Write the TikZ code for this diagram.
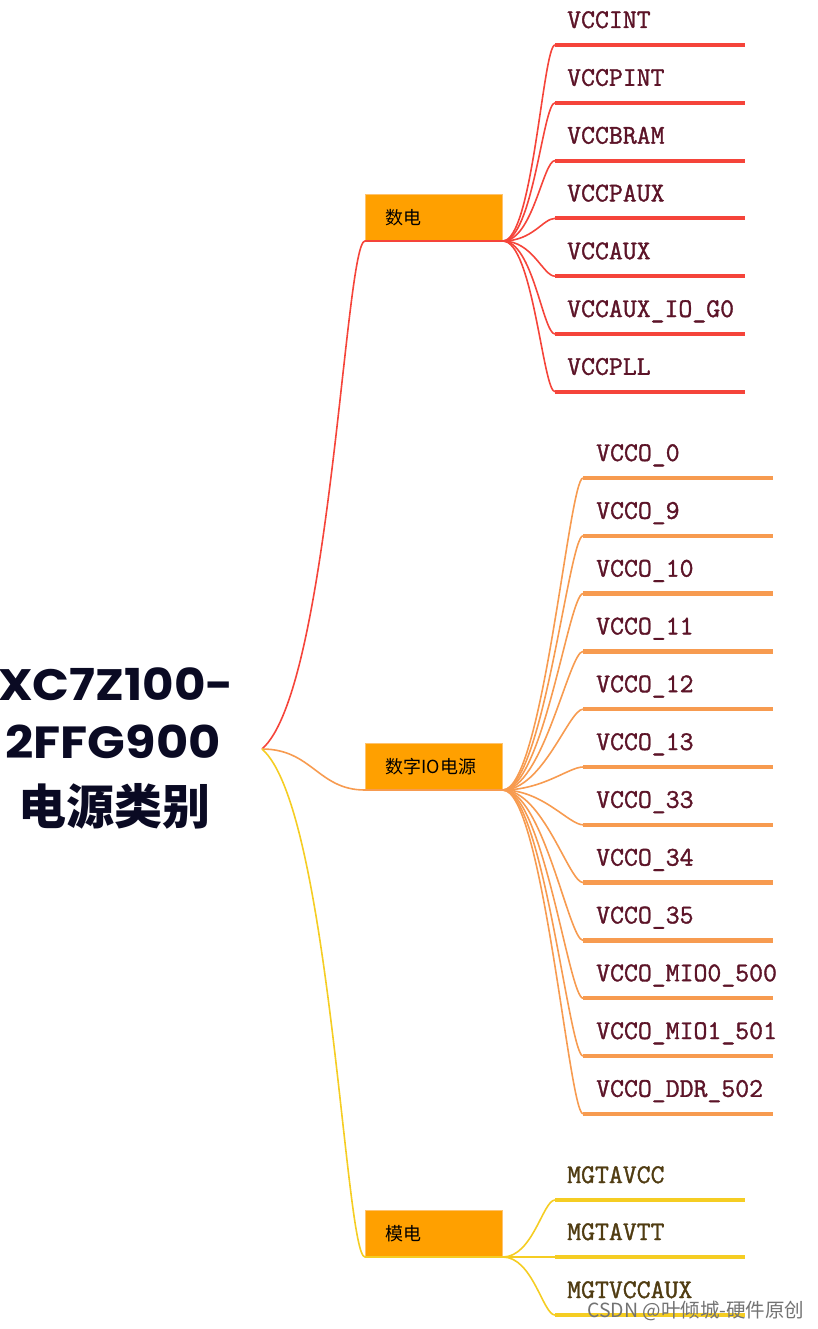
\documentclass[tikz,border=0pt]{standalone}
\usepackage{fontspec}
\newfontfamily\titlefont{Poppins}[FakeStretch=1.1]
\newfontfamily\cjk{Noto Sans CJK SC}
\newfontfamily\leaffont{Latin Modern Mono}[FakeBold=1.3]
\definecolor{redc}{RGB}{245,68,58}
\definecolor{orangec}{RGB}{247,155,80}
\definecolor{yellowc}{RGB}{245,205,35}
\definecolor{boxfill}{RGB}{255,160,0}
\definecolor{boxline}{RGB}{255,195,110}
\definecolor{darkred}{RGB}{92,20,40}
\definecolor{darkolive}{RGB}{80,60,18}
\definecolor{titlec}{RGB}{10,10,35}
\tikzset{
  conn/.style={line width=1.6pt},
  leafline/.style={line width=4pt},
  leaf/.style={anchor=base west, inner sep=0pt, font=\leaffont\fontsize{27}{27}\selectfont},
  branchbox/.style={draw=boxline, line width=0.8pt, fill=boxfill, anchor=south west,
    minimum height=46pt, text width=97pt, inner xsep=20pt, inner ysep=0pt, align=left,
    font=\cjk\fontsize{18}{18}\selectfont},
  titletext/.style={anchor=base, inner sep=0pt, text=titlec},
}
\begin{document}
\begin{tikzpicture}[x=1pt,y=-1pt]
\useasboundingbox (0,0) rectangle (818,1329);

% title
\node[titletext, font=\titlefont\bfseries\fontsize{44}{44}\selectfont] (t1) at (116,700) {XC7Z100-};
\node[titletext, font=\titlefont\bfseries\fontsize{45}{45}\selectfont] (t2) at (113,758) {2FFG900};
\node[titletext, font=\cjk\bfseries\fontsize{48}{48}\selectfont] (t3) at (114,824) {电源类别};
\coordinate (root) at (262,749);

% branch boxes
\node[branchbox] (b1) at (365,241) {数电};
\node[branchbox] (b2) at (365,790) {数字IO电源};
\node[branchbox] (b3) at (365,1257) {模电};

% branch connectors
\draw[redc, conn] (root) .. controls (330,690) and (345,241) .. (b1.south west) -- (b1.south east);
\draw[orangec, conn] (root) .. controls (312,749) and (318,790) .. (b2.south west) -- (b2.south east);
\draw[yellowc, conn] (root) .. controls (330,808) and (345,1257) .. (b3.south west) -- (b3.south east);

% red leaves
\foreach \t [count=\i from 0] in {VCCINT,VCCPINT,VCCBRAM,VCCPAUX,VCCAUX,VCCAUX\_IO\_G0,VCCPLL}{
  \pgfmathsetmacro\yy{45+57.8*\i}
  \coordinate (rs\i) at (555,\yy);
  \coordinate (re\i) at (745,\yy);
  \draw[redc, conn] (b1.south east) .. controls +(30,0) and +(-12,0) .. (rs\i);
  \draw[redc, leafline] (rs\i) -- (re\i);
  \node[leaf, text=darkred] (rl\i) at (567,\yy-17) {\t};
}

% orange leaves
\foreach \t [count=\i from 0] in {VCCO\_0,VCCO\_9,VCCO\_10,VCCO\_11,VCCO\_12,VCCO\_13,VCCO\_33,VCCO\_34,VCCO\_35,VCCO\_MIO0\_500,VCCO\_MIO1\_501,VCCO\_DDR\_502}{
  \pgfmathsetmacro\yy{478+57.8*\i}
  \coordinate (os\i) at (583,\yy);
  \coordinate (oe\i) at (773,\yy);
  \draw[orangec, conn] (b2.south east) .. controls +(40,0) and +(-14,0) .. (os\i);
  \draw[orangec, leafline, line width=4.5pt] (os\i) -- (oe\i);
  \node[leaf, text=darkred] (ol\i) at (596,\yy-17) {\t};
}

% yellow leaves
\foreach \t/\yy [count=\i from 0] in {MGTAVCC/1200,MGTAVTT/1257,MGTVCCAUX/1315}{
  \coordinate (ys\i) at (555,\yy);
  \coordinate (ye\i) at (745,\yy);
  \draw[yellowc, conn] (b3.south east) .. controls +(30,0) and +(-12,0) .. (ys\i);
  \draw[yellowc, leafline] (ys\i) -- (ye\i);
  \node[leaf, text=darkolive] (yl\i) at (567,\yy-17) {\t};
}

% watermark
\node[anchor=base west, inner sep=0pt, text=black!55, font=\cjk\fontsize{19.5}{19.5}\selectfont] (wm) at (587,1317) {CSDN @叶倾城-硬件原创};
\end{tikzpicture}
\end{document}
